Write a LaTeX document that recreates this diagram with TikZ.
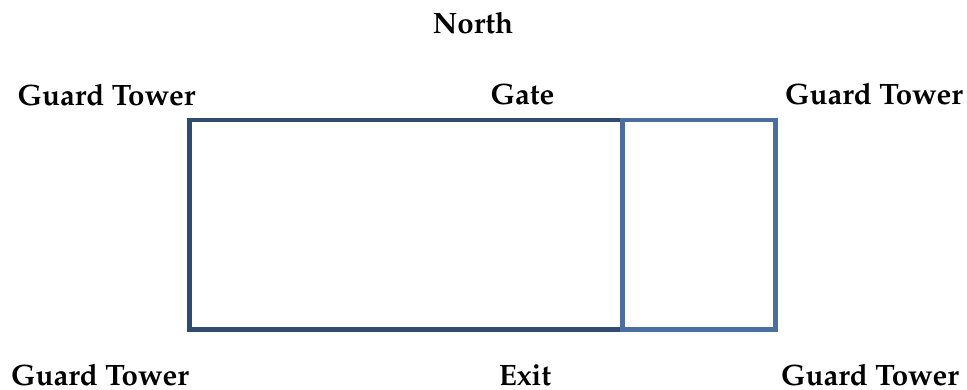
\documentclass[tikz,border=0pt]{standalone}
\usepackage[T1]{fontenc}
\usepackage{mathpazo}
\definecolor{wallDark}{HTML}{2F4C70}
\definecolor{wallLight}{HTML}{4A6F9C}
\tikzset{
  lbl/.style={font=\fontsize{29.5}{34}\selectfont\bfseries, anchor=base, inner sep=0pt},
  wall/.style={line width=4.5pt}
}
\begin{document}
\begin{tikzpicture}[x=1pt,y=-1pt]
  \useasboundingbox (0,0) rectangle (967,389);
  % main courtyard and the annex on its east side
  \draw[wall, wallDark] (189.5,120) rectangle (622.5,329.5);
  \draw[wall, wallLight] (622.5,120) rectangle (775.5,329.5);
  % labels
  \node[lbl] (north) at (473,33) {North};
  \node[lbl] (gtnw) at (106.5,105) {Guard Tower};
  \node[lbl] (gate) at (522.5,104) {Gate};
  \node[lbl] (gtne) at (874,104) {Guard Tower};
  \node[lbl] (gtsw) at (100,385) {Guard Tower};
  \node[lbl] (exit) at (525,385) {Exit};
  \node[lbl] (gtse) at (870,385) {Guard Tower};
\end{tikzpicture}
\end{document}
